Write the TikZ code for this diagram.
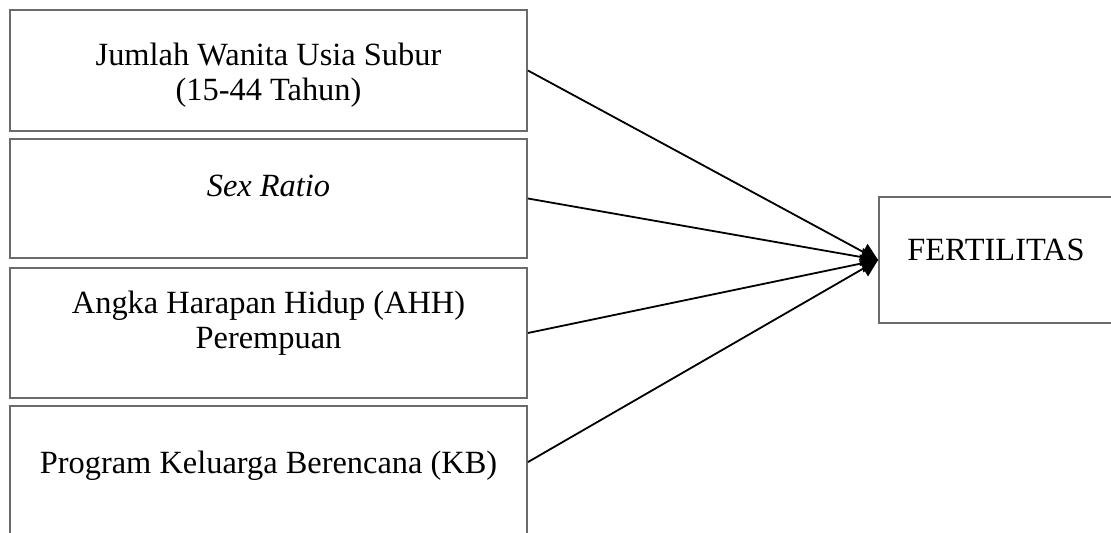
\documentclass[tikz,border=0pt]{standalone}
\usepackage{fontspec}
\setmainfont{Liberation Serif}
\usetikzlibrary{arrows.meta,positioning,calc}

\begin{document}
\begin{tikzpicture}[x=0.5pt, y=-0.5pt,
  varbox/.style={rectangle, draw=black!58, line width=0.9pt, minimum width=258.5pt, inner sep=0pt},
  txt/.style={font=\fontsize{16.2}{17.5}\selectfont, align=center, inner sep=0pt, anchor=base},
  arr/.style={-{Triangle[length=8.5pt, width=9pt]}, line width=0.9pt, black}
]
  \useasboundingbox (0,0) rectangle (1111,533);

  % variable boxes
  \node[varbox, minimum height=60.5pt] (wus) at (268.5,70.5) {};
  \node[varbox, minimum height=59.5pt] (sr) at (268.5,198.5) {};
  \node[varbox, minimum height=65pt] (ahh) at (268.5,333) {};
  \node[varbox, minimum height=77pt] (kb) at (268.5,483) {};
  \node[varbox, minimum width=117pt, minimum height=63pt] (fert) at (996,260) {};

  % texts (base = last line)
  \node[txt] (wustext) at (268.5,101) {Jumlah Wanita Usia Subur\\(15-44 Tahun)};
  \node[txt] (srtext) at (268.5,197) {\textit{Sex Ratio}};
  \node[txt] (ahhtext) at (268.5,349) {Angka Harapan Hidup (AHH)\\Perempuan};
  \node[txt] (kbtext) at (268.5,473) {Program Keluarga Berencana (KB)};
  \node[txt] (ferttext) at (996,261) {FERTILITAS};

  \draw[arr] (wus.east) -- (fert.west);
  \draw[arr] (sr.east) -- (fert.west);
  \draw[arr] (ahh.east) -- (fert.west);
  \draw[arr] ($(kb.north east)+(0,57)$) -- (fert.west);
\end{tikzpicture}
\end{document}
